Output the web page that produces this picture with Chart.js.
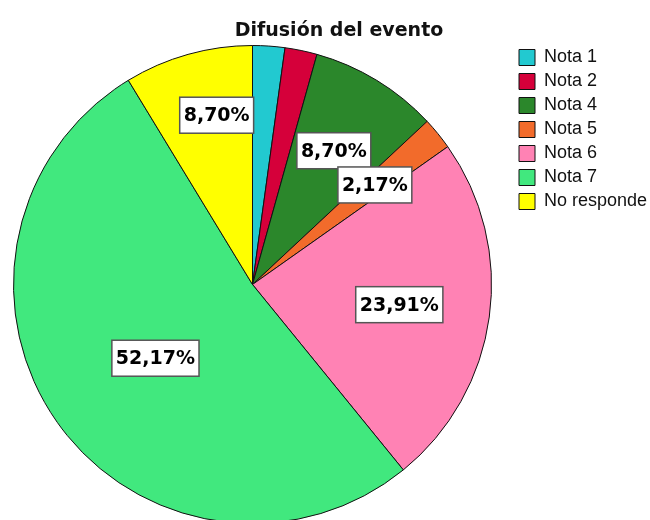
<!DOCTYPE html>
<html>
<head>
<meta charset="utf-8">
<title>Difusión del evento</title>
<script src="https://cdn.jsdelivr.net/npm/chart.js@4/dist/chart.umd.min.js"></script>
<style>
  html, body { margin: 0; padding: 0; background: #fff; overflow: hidden; }
  canvas { display: block; }
</style>
</head>
<body>
<canvas id="pieChart" width="650" height="530"></canvas>
<script>
// Chart data
const categories = ['Nota 1', 'Nota 2', 'Nota 4', 'Nota 5', 'Nota 6', 'Nota 7', 'No responde'];
const counts = [1, 1, 4, 1, 11, 24, 4];
const sliceColors = ['#22c9d0', '#d5003a', '#2b872b', '#f26b2b', '#ff82b4', '#41e87e', '#ffff00'];
const chartTitle = 'Difusión del evento';

// label box placement: distance from centre (fraction of radius) and nudge in degrees
// null = slice has no label (as in the original)
const labelRadius = [null, null, 0.655, 0.66, 0.62, 0.51, 0.724];
const labelNudge = [0, 0, 0, 0, 0, -2, 3.7];

const total = counts.reduce((a, b) => a + b, 0);
const pctText = v => (v / total * 100).toFixed(2).replace('.', ',') + '%';

// Draws the percentage boxes on top of the slices
const sliceLabels = {
    id: 'sliceLabels',
    afterDatasetsDraw(chart) {
        const ctx = chart.ctx;
        const meta = chart.getDatasetMeta(0);
        ctx.save();
        ctx.font = 'bold 19px "DejaVu Sans"';
        ctx.textAlign = 'center';
        ctx.textBaseline = 'middle';
        meta.data.forEach((arc, i) => {
            if (labelRadius[i] == null) return;
            const mid = (arc.startAngle + arc.endAngle) / 2 + labelNudge[i] * Math.PI / 180;
            const r = arc.outerRadius * labelRadius[i];
            const x = arc.x + Math.cos(mid) * r;
            const y = arc.y + Math.sin(mid) * r;
            const txt = pctText(counts[i]);
            const w = ctx.measureText(txt).width + 8;
            const h = 36;
            ctx.fillStyle = '#fff';
            ctx.fillRect(x - w / 2, y - h / 2, w, h);
            ctx.strokeStyle = '#555';
            ctx.lineWidth = 1.5;
            ctx.strokeRect(x - w / 2, y - h / 2, w, h);
            ctx.fillStyle = '#000';
            ctx.fillText(txt, x, y + 1);
        });
        ctx.restore();
    }
};

// Title, centred over pie + legend like the original
const titlePlugin = {
    id: 'titleText',
    afterDraw(chart) {
        const ctx = chart.ctx;
        ctx.save();
        ctx.font = 'bold 19px "DejaVu Sans"';
        ctx.fillStyle = '#111';
        ctx.textAlign = 'center';
        ctx.textBaseline = 'alphabetic';
        ctx.fillText(chartTitle, 339, 36);
        ctx.restore();
    }
};

// Move the legend a bit away from the pie (and widen it so the text isn't clipped)
const legendShift = {
    id: 'legendShift',
    afterLayout(chart) {
        const lg = chart.legend;
        const dx = chart.chartArea.right + 27 - (lg.left + lg.options.labels.padding);
        lg.left += dx;
        lg.right = chart.width;
        lg.width = lg.right - lg.left;
        lg.top -= 2.5;
        lg.bottom -= 2.5;
    }
};

const ctx = document.getElementById('pieChart').getContext('2d');
const pieChart = new Chart(ctx, {
    type: 'pie',
    data: {
        labels: categories,
        datasets: [{
            data: counts,
            backgroundColor: sliceColors,
            borderColor: '#111',
            borderWidth: 1
        }]
    },
    options: {
        responsive: false,
        animation: false,
        layout: {
            padding: { left: 13, right: 28, top: 45, bottom: 6 }
        },
        plugins: {
            title: { display: false },
            tooltip: { enabled: false },
            legend: {
                position: 'right',
                align: 'start',
                maxWidth: 130,
                labels: {
                    font: { family: '"Liberation Sans"', size: 18 },
                    color: '#111',
                    boxWidth: 16,
                    boxHeight: 16,
                    padding: 6
                }
            }
        }
    },
    plugins: [sliceLabels, titlePlugin, legendShift]
});
</script>
</body>
</html>
